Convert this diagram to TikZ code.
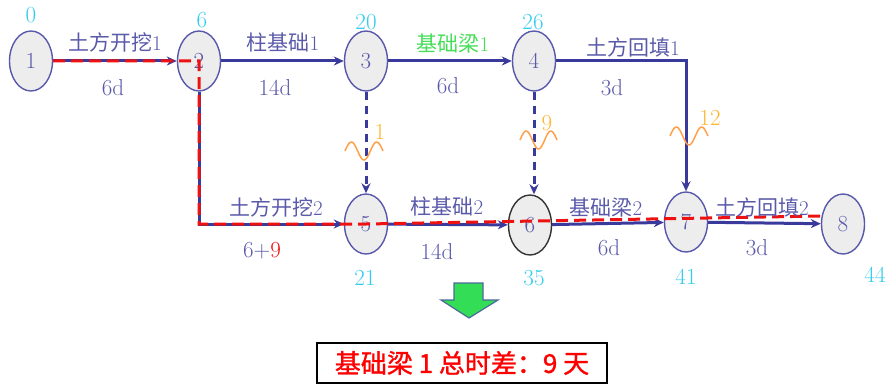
\documentclass[tikz,border=0pt]{standalone}
\usepackage{fontspec}
\newfontfamily\cjk{Noto Sans CJK SC}
\newfontfamily\cjkres[FakeBold=1.2]{Noto Sans CJK SC}
\usetikzlibrary{shapes.geometric,arrows.meta,calc}
\definecolor{lineblue}{HTML}{3A3A9C}
\definecolor{txtblue}{HTML}{5A5AAA}
\definecolor{cyanN}{HTML}{33CCEE}
\definecolor{orangeN}{HTML}{FFB52E}
\definecolor{wave}{HTML}{FFA04A}
\definecolor{critred}{HTML}{EE1111}
\definecolor{nodefill}{HTML}{EDEDED}
\definecolor{greenT}{HTML}{44DD55}
\definecolor{arrowgreen}{HTML}{33DD55}
\definecolor{arrowedge}{HTML}{4A6A9A}
\begin{document}
\begin{tikzpicture}[x=1pt,y=-1pt,
 ev/.style={ellipse, draw=lineblue!85, fill=nodefill, line width=1.4pt, minimum width=43pt, minimum height=60pt, inner sep=0pt, font=\fontsize{23}{23}\selectfont, text=txtblue},
 act/.style={draw=lineblue, line width=3pt, -{Stealth[length=10pt,width=9pt]}},
 dum/.style={act, dash pattern=on 8pt off 6pt},
 crit/.style={draw=critred, line width=3pt, dash pattern=on 12pt off 6pt},
 lab/.style={text=txtblue, font=\fontsize{21}{21}\selectfont, inner sep=0pt},
 dur/.style={text=txtblue, font=\fontsize{23}{23}\selectfont, inner sep=0pt},
 tim/.style={text=cyanN, font=\fontsize{23}{23}\selectfont, inner sep=0pt},
 fl/.style={text=orangeN, font=\fontsize{23}{23}\selectfont, inner sep=0pt},
 wv/.style={draw=wave, line width=1.5pt}
]
\useasboundingbox (0,0) rectangle (890,385);

% events
\node[ev] (n1) at (31,61) {1};
\node[ev] (n2) at (199,61) {2};
\node[ev] (n3) at (366,61) {3};
\node[ev] (n4) at (534,61) {4};
\node[ev] (n5) at (366,224) {5};
\node[ev, draw=black!80] (n6) at (530,225) {6};
\node[ev] (n7) at (686,222) {7};
\node[ev] (n8) at (843,224) {8};

% activities
\draw[act] (n1) -- (n2);
\draw[act] (n2) -- (n3);
\draw[act] (n3) -- (n4);
\draw[act] (n4.east) -| (n7.north);
\draw[act] (n2.south) |- (n5.west);
\draw[act] (n5) -- (n6);
\draw[act] (n6) -- (n7);
\draw[act] (n7) -- (n8);
\draw[dum] (n3.south) -- (n5.north);
\draw[dum] (n4.south) -- (n4.south |- n6.north);

% critical path
\draw[crit] (n1.east) -- (n2.center) -- (n2 |- n5) -- (n5.center) -- ($(n8.west)+(0,-8)$);

% labels
\node[lab] (l12) at (115,42) {{\cjk 土方开挖}1};
\node[dur] (d12) at (113,88) {6d};
\node[lab] (l23) at (283,43) {{\cjk 柱基础}1};
\node[dur] (d23) at (275,88) {14d};
\node[lab, text=greenT] (l34) at (453,44) {{\cjk 基础梁}1};
\node[dur] (d34) at (448,86) {6d};
\node[lab] (l47) at (633,47) {{\cjk 土方回填}1};
\node[dur] (d47) at (612,88) {3d};
\node[lab] (l25) at (276,207) {{\cjk 土方开挖}2};
\node[dur] (d25) at (262,251) {6+\textcolor{critred}{9}};
\node[lab] (l56) at (447,207) {{\cjk 柱基础}2};
\node[dur] (d56) at (437,252) {14d};
\node[lab] (l67) at (606,208) {{\cjk 基础梁}2};
\node[dur] (d67) at (609,248) {6d};
\node[lab] (l78) at (762,207) {{\cjk 土方回填}2};
\node[dur] (d78) at (757,248) {3d};

% times
\node[tim] (t1) at (31,15) {0};
\node[tim] (t2) at (202,20) {6};
\node[tim] (t3) at (366,22) {20};
\node[tim] (t4) at (533,22) {26};
\node[tim] (t5) at (365,278) {21};
\node[tim] (t6) at (534,278) {35};
\node[tim] (t7) at (686,277) {41};
\node[tim] (t8) at (875,275) {44};

% floats
\node[fl] (f35) at (380,132) {1};
\node[fl] (f46) at (547,123) {9};
\node[fl] (f47) at (710,118) {12};
\draw[wv] plot[domain=0:1, samples=40, smooth] ({345+38*\x}, {151-9*sin(540*\x)});
\draw[wv] plot[domain=0:1, samples=40, smooth] ({520+37*\x}, {140-9*sin(540*\x)});
\draw[wv] plot[domain=0:1, samples=40, smooth] ({670+38*\x}, {136-9*sin(540*\x)});

% green arrow
\draw[fill=arrowgreen, draw=arrowedge, line width=1.2pt, line join=miter]
  (454,283) -- (483,283) -- (483,300) -- (498,300) -- (469,318) -- (441,300) -- (454,300) -- cycle;

% result box
\node[draw=black, line width=2pt, minimum width=290pt, minimum height=40pt, inner sep=0pt,
      text=red, font=\fontsize{26}{26}\selectfont\cjkres] (res) at (462,363)
      {基础梁 1 总时差：9 天};
\end{tikzpicture}
\end{document}
